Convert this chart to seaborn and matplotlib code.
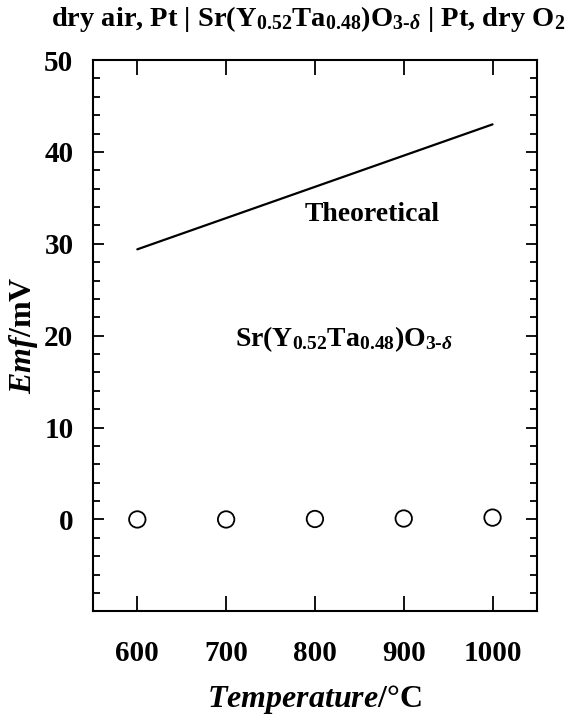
import numpy as np
import pandas as pd
import seaborn as sns
import matplotlib.pyplot as plt
from matplotlib.ticker import MultipleLocator

# values
temps = [600, 700, 800, 900, 1000]
emf_theory = [29.4, 32.8, 36.2, 39.6, 43.0]
emf_measured = [0.0, 0.0, 0.05, 0.1, 0.2]

sns.set_style('ticks')
plt.rcParams['font.family'] = ['Liberation Serif', 'DejaVu Serif']
plt.rcParams['font.weight'] = 'bold'
plt.rcParams['axes.labelweight'] = 'bold'
plt.rcParams['text.color'] = 'black'
plt.rcParams['axes.labelcolor'] = 'black'
plt.rcParams['axes.edgecolor'] = 'black'
plt.rcParams['xtick.color'] = 'black'
plt.rcParams['ytick.color'] = 'black'
plt.rcParams['mathtext.fontset'] = 'custom'
plt.rcParams['mathtext.rm'] = 'Liberation Serif:bold'
plt.rcParams['mathtext.it'] = 'Liberation Serif:bold:italic'
plt.rcParams['mathtext.bf'] = 'Liberation Serif:bold'

df = pd.DataFrame({'T': temps, 'theory': emf_theory, 'emf': emf_measured})

fig = plt.figure(figsize=(5.7, 7.15), dpi=100)
ax = fig.add_axes([0.163, 0.145, 0.779, 0.771])

sns.lineplot(data=df, x='T', y='theory', color='black', linewidth=1.6, ax=ax)
sns.scatterplot(data=df, x='T', y='emf', s=140, facecolor='none',
                edgecolor='black', linewidth=1.3, ax=ax)

ax.set_xlim(550, 1050)
ax.set_ylim(-10, 50)
ax.set_xticks(temps)
ax.set_yticks([0, 10, 20, 30, 40, 50])
ax.yaxis.set_minor_locator(MultipleLocator(2))
ax.tick_params(axis='both', which='both', direction='in', top=True, right=True,
               width=1.3, labelsize=21)
ax.tick_params(axis='x', which='major', length=11, pad=21)
ax.tick_params(axis='y', which='major', length=8, pad=14)
ax.tick_params(axis='y', which='minor', length=5)
for s in ax.spines.values():
    s.set_linewidth(1.5)

ax.set_xlabel(r'$\it{Temperature/}$$\mathrm{°C}$', fontsize=23, labelpad=11)
ax.set_ylabel(r'$\it{Emf}$/mV', fontsize=23, labelpad=3)

ax.text(865, 33.2, 'Theoretical', fontsize=20, ha='center', va='center')
ax.text(833, 19.6, r'Sr(Y$_{0.52}$Ta$_{0.48}$)O$_{3\text{-}\delta}$', fontsize=20,
        ha='center', va='center')
fig.text(0.54, 0.974, r'dry air, Pt | Sr(Y$_{0.52}$Ta$_{0.48}$)O$_{3\text{-}\delta}$ | Pt, dry O$_2$',
         fontsize=20.5, ha='center', va='center')

fig.savefig('out.png', dpi=100)
